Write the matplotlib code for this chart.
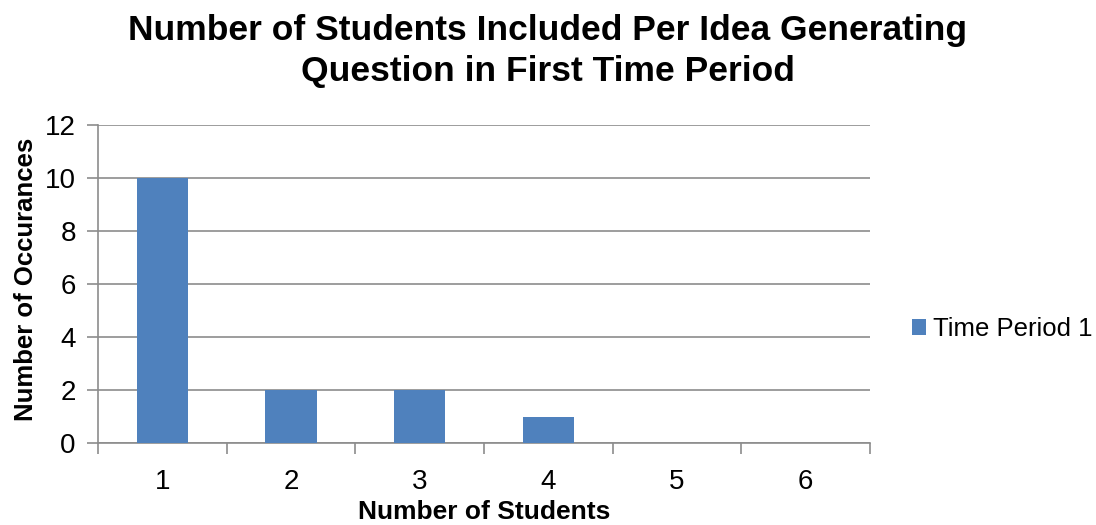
import matplotlib
matplotlib.use("Agg")
import matplotlib.pyplot as plt
from matplotlib.patches import Patch

plt.rcParams['font.family'] = ['Liberation Sans', 'DejaVu Sans']

# Data
categories = ["1", "2", "3", "4", "5", "6"]
occurrences = [10, 2, 2, 1, 0, 0]
series_name = "Time Period 1"
y_ticks = [0, 2, 4, 6, 8, 10, 12]

title_lines = ["Number of Students Included Per Idea Generating",
               "Question in First Time Period"]
x_label = "Number of Students"
y_label = "Number of Occurances"

bar_color = "#4F81BD"
grid_color = "#8C8C8C"

W, H = 1096, 525
fig = plt.figure(figsize=(W / 100, H / 100), dpi=100)
ax = fig.add_axes([98 / W, 1 - 443 / H, (870 - 98) / W, (443 - 125) / H])

x = list(range(len(categories)))
ax.bar(x, occurrences, width=0.4, color=bar_color, zorder=3)

ax.set_xlim(-0.5, len(categories) - 0.5)
ax.set_ylim(0, 12)
ax.set_yticks(y_ticks)
ax.set_xticks(x)
ax.set_xticklabels(categories)

# category boundary ticks on the x axis
ax.set_xticks([i - 0.5 for i in range(len(categories) + 1)], minor=True)
ax.tick_params(axis='x', which='major', length=0, pad=19, labelsize=20)
ax.tick_params(axis='x', which='minor', length=8, width=1.2, color=grid_color, direction='out')
ax.tick_params(axis='y', which='major', length=8, width=1.2, color=grid_color,
               direction='out', labelsize=20, pad=8)

ax.yaxis.grid(True, color=grid_color, linewidth=1.2, zorder=0)
for side in ['top', 'right']:
    ax.spines[side].set_visible(False)
for side in ['left', 'bottom']:
    ax.spines[side].set_color(grid_color)
    ax.spines[side].set_linewidth(1.2)

for line, base in zip(title_lines, [40, 81]):
    fig.text(548 / W, 1 - base / H, line, ha='center', va='baseline',
             fontsize=25.5, fontweight='bold')
fig.text(484 / W, 1 - 519 / H, x_label, ha='center', va='baseline',
         fontsize=19, fontweight='bold')
fig.text(33 / W, 1 - 279 / H, y_label, ha='center', va='baseline',
         rotation=90, rotation_mode='anchor', fontsize=18.5, fontweight='bold')

handles = [Patch(facecolor=bar_color, edgecolor='none')]
fig.legend(handles, [series_name], loc='center left',
           bbox_to_anchor=(912 / W, 1 - 329 / H), frameon=False,
           fontsize=18.5, handlelength=0.55, handleheight=0.55, handletextpad=0.25,
           borderaxespad=0, borderpad=0)

fig.savefig("out.png", dpi=100)
